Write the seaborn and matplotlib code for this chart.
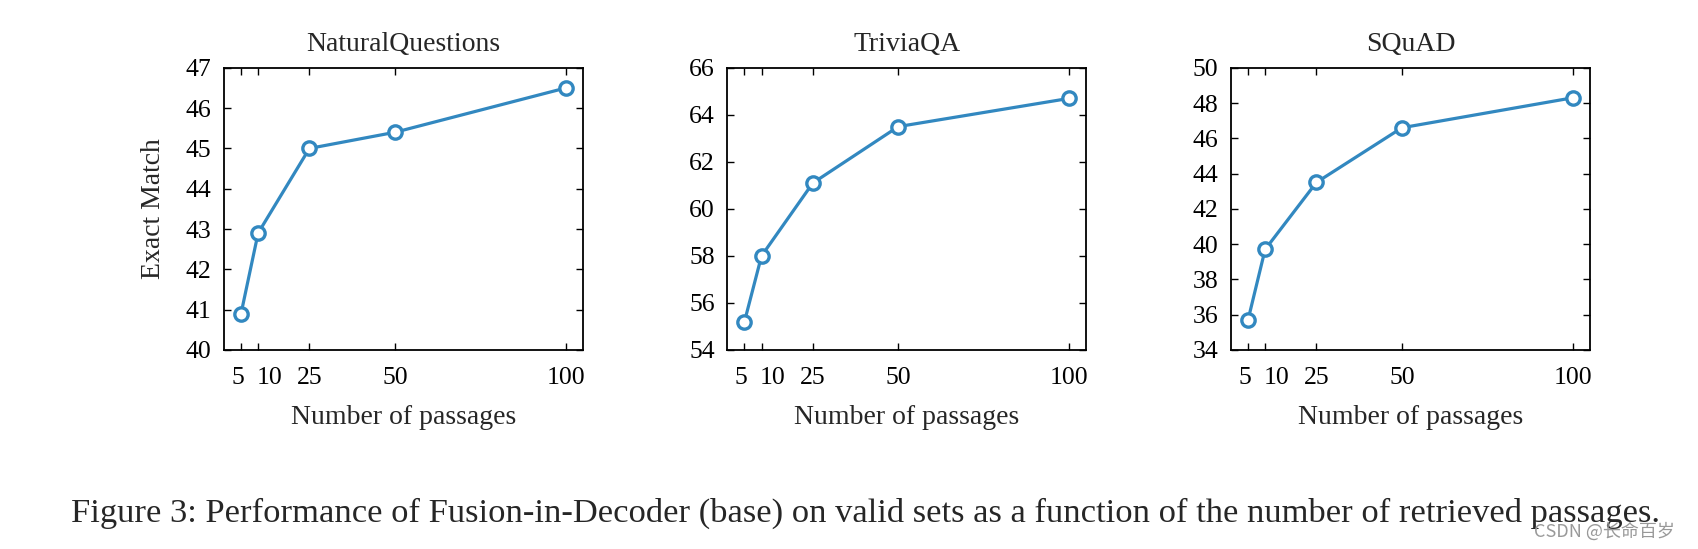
import seaborn as sns
import matplotlib.pyplot as plt
import matplotlib.transforms as mtransforms
import pandas as pd

# Number of retrieved passages
passages = [5, 10, 25, 50, 100]

# Exact Match scores per dataset
nq_scores = [40.9, 42.9, 45.0, 45.4, 46.5]
tqa_scores = [55.2, 58.0, 61.1, 63.5, 64.7]
squad_scores = [35.7, 39.7, 43.5, 46.6, 48.3]

titles = ["NaturalQuestions", "TriviaQA", "SQuAD"]
y_ticks = [
    [40, 41, 42, 43, 44, 45, 46, 47],
    [54, 56, 58, 60, 62, 64, 66],
    [34, 36, 38, 40, 42, 44, 46, 48, 50],
]

caption = ("Figure 3: Performance of Fusion-in-Decoder (base) on valid sets "
           "as a function of the number of retrieved passages.")

sns.set_style("ticks")
plt.rcParams['font.family'] = ['Liberation Serif', 'Noto Sans CJK SC', 'DejaVu Sans']

line_color = '#3288c0'
fs = 20

fig = plt.figure(figsize=(16.99, 5.49), dpi=100)

# small horizontal nudges (points) so "5" and "10" don't collide
label_nudge = {0: -2.5, 1: 8}

lefts = [0.1318, 0.4281, 0.7245]
for i, (scores, title, yt) in enumerate(zip([nq_scores, tqa_scores, squad_scores], titles, y_ticks)):
    ax = fig.add_axes([lefts[i], 0.3625, 0.2113, 0.514])
    df = pd.DataFrame({'passages': passages, 'score': scores})
    sns.lineplot(x='passages', y='score', data=df, ax=ax, color=line_color,
                 linewidth=2.3, marker='o', markersize=9.6, markerfacecolor='white',
                 markeredgecolor=line_color, markeredgewidth=2.4)
    ax.set_xlim(0, 105)
    ax.set_ylim(yt[0], yt[-1])
    ax.set_xticks(passages)
    ax.set_yticks(yt)
    ax.tick_params(direction='in', top=True, right=True, length=5, width=1,
                   labelsize=18.5, colors='black')
    ax.tick_params(axis='x', pad=12)
    ax.tick_params(axis='y', pad=9)
    for k, dx in label_nudge.items():
        lbl = ax.get_xticklabels()[k]
        lbl.set_transform(lbl.get_transform() +
                          mtransforms.ScaledTranslation(dx / 72, 0, fig.dpi_scale_trans))
    for s in ax.spines.values():
        s.set_linewidth(1.3)
        s.set_color('black')
    ax.set_title(title, fontsize=fs, pad=12)
    ax.set_xlabel("Number of passages", fontsize=fs, labelpad=12)
    if i == 0:
        ax.set_ylabel("Exact Match", fontsize=fs, labelpad=14)
    else:
        ax.set_ylabel("")

fig.text(0.0416, 0.05, caption, fontsize=24.8, ha='left', va='baseline')
fig.text(0.986, 0.022, "CSDN @长命百岁", fontsize=13, color='#999999',
         ha='right', va='baseline', family=['Noto Sans CJK SC', 'DejaVu Sans'])

fig.savefig("out.png", dpi=100)
